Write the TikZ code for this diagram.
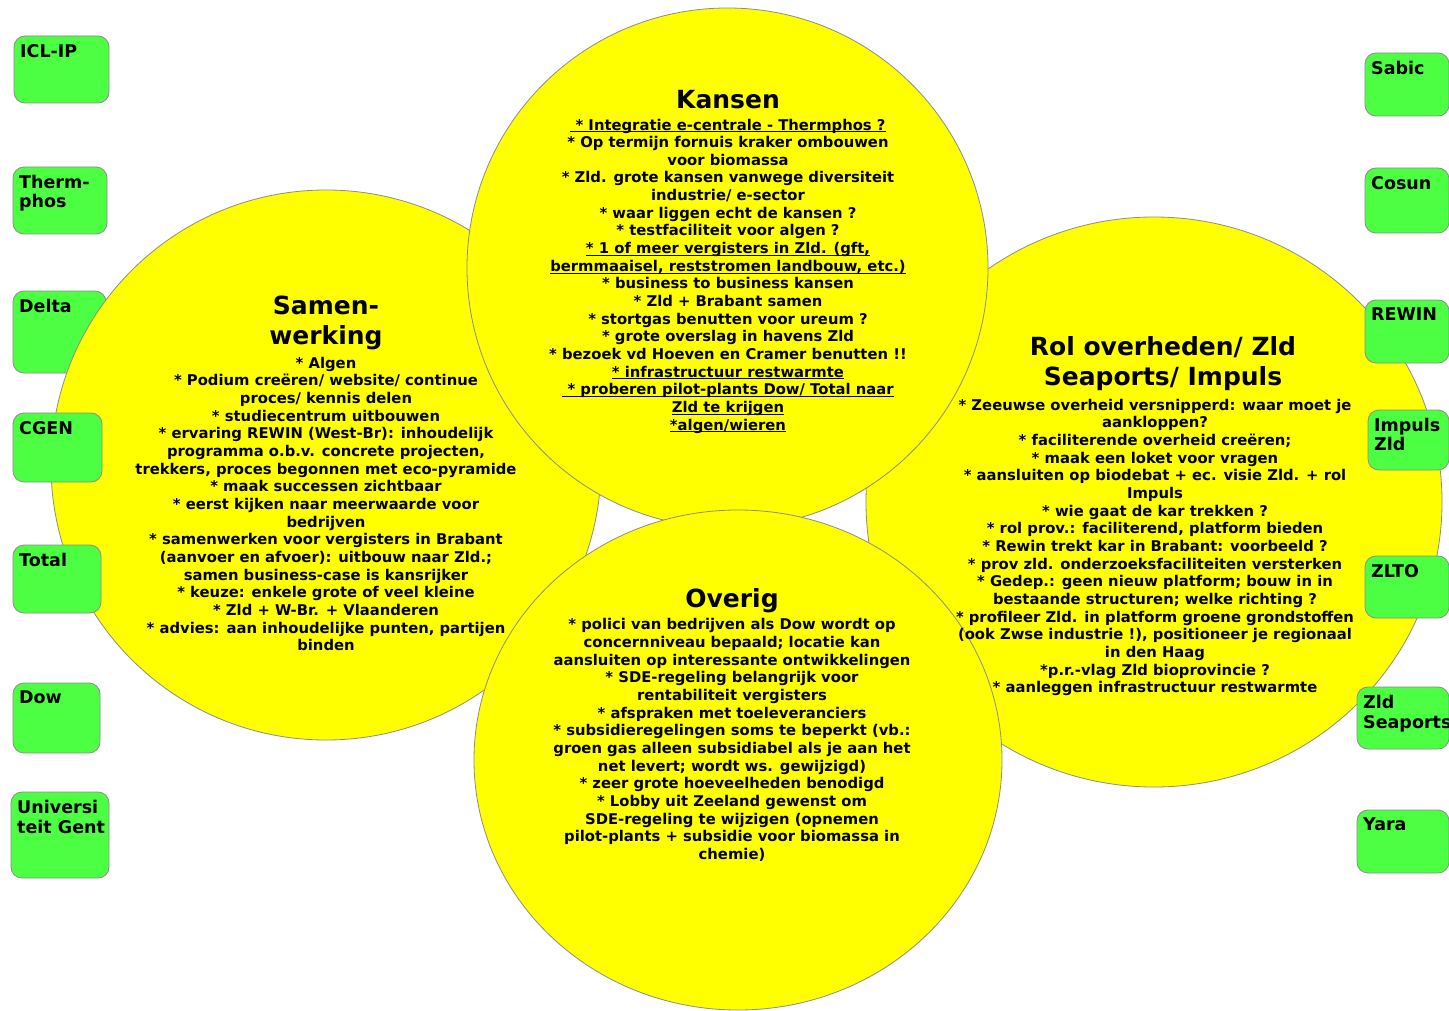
\documentclass[tikz,border=0pt]{standalone}
\usepackage{fontspec}
\setmainfont{DejaVu Sans}
\newcommand{\ul}[1]{{\setbox0\hbox{#1}\rlap{\rule[-2.2pt]{\wd0}{0.9pt}}\box0}}
\definecolor{gboxfill}{RGB}{76,255,66}
\definecolor{circfill}{RGB}{255,255,0}
\definecolor{edgegray}{RGB}{140,140,140}
\tikzset{
  bubble/.style={fill=circfill, draw=edgegray, line width=0.8pt},
  gbox/.style={fill=gboxfill, draw=edgegray, line width=0.8pt, rounded corners=11pt},
  glabel/.style={anchor=north west, inner sep=0pt, align=left, font=\fontsize{17.5}{19.5}\selectfont\bfseries},
  ctitle/.style={inner sep=0pt, align=center, font=\fontsize{25}{30}\selectfont\bfseries},
  cbody/.style={inner sep=0pt, align=center, font=\fontsize{14.8}{17.65}\selectfont\bfseries},
}
\newcommand{\gb}[6]{%
  \path[gbox] (#2,#3) rectangle (#4,#5);
  \coordinate (#1) at (#2,#3);
  \node[glabel] (#1-t) at ([xshift=6pt,yshift=-8pt]#1) {#6};}
\begin{document}
\begin{tikzpicture}[x=1pt,y=-1pt]
\useasboundingbox (0,0) rectangle (1449,1011);
\fill[white] (0,0) rectangle (1449,1011);
% box behind circle
\gb{delta}{13}{291}{106}{373}{Delta}
% circles
\path[bubble] (326,465) ellipse [x radius=275pt, y radius=275pt];
\path[bubble] (1154,502) ellipse [x radius=288pt, y radius=285pt];
\path[bubble] (727.5,268) ellipse [x radius=260.5pt, y radius=260pt];
\path[bubble] (738,760) ellipse [x radius=264pt, y radius=250pt];
% boxes in front
\gb{icl}{14}{36}{109}{103}{ICL-IP}
\gb{therm}{13}{167}{107}{234}{Therm-\\phos}
\gb{cgen}{13}{413}{102}{482}{CGEN}
\gb{total}{13}{545}{101}{613}{Total}
\gb{dow}{13}{683}{100}{753}{Dow}
\gb{ugent}{11}{792}{109}{878}{Universi\\teit Gent}
\gb{sabic}{1365}{53}{1449}{116}{Sabic}
\gb{cosun}{1365}{168}{1449}{233}{Cosun}
\gb{rewin}{1365}{300}{1449}{363}{REWIN}
\gb{impuls}{1368}{410}{1449}{470}{Impuls\\Zld}
\gb{zlto}{1365}{556}{1449}{618}{ZLTO}
\gb{seaports}{1357}{687}{1449}{749}{Zld\\Seaports}
\gb{yara}{1357}{810}{1449}{873}{Yara}
% Kansen
\node[ctitle] (kans-t) at (728,100) {Kansen};
\node[cbody] (kans-b) at (728,276) {%
\ul{ * Integratie e-centrale - Thermphos ?}\\
* Op termijn fornuis kraker ombouwen\\
voor biomassa\\
* Zld. grote kansen vanwege diversiteit\\
industrie/ e-sector\\
* waar liggen echt de kansen ?\\
* testfaciliteit voor algen ?\\
\ul{* 1 of meer vergisters in Zld. (gft,}\\
\ul{bermmaaisel, reststromen landbouw, etc.)}\\
* business to business kansen\\
* Zld + Brabant samen\\
* stortgas benutten voor ureum ?\\
* grote overslag in havens Zld\\
* bezoek vd Hoeven en Cramer benutten !!\\
\ul{* infrastructuur restwarmte}\\
\ul{ * proberen pilot-plants Dow/ Total naar}\\
\ul{Zld te krijgen}\\
\ul{*algen/wieren}};
% Samenwerking
\node[ctitle] (samen-t) at (326,323) {Samen-\\werking};
\node[cbody] (samen-b) at (326,504) {%
* Algen\\
* Podium creëren/ website/ continue\\
proces/ kennis delen\\
* studiecentrum uitbouwen\\
* ervaring REWIN (West-Br): inhoudelijk\\
programma o.b.v. concrete projecten,\\
trekkers, proces begonnen met eco-pyramide\\
* maak successen zichtbaar\\
* eerst kijken naar meerwaarde voor\\
bedrijven\\
* samenwerken voor vergisters in Brabant\\
(aanvoer en afvoer): uitbouw naar Zld.;\\
samen business-case is kansrijker\\
* keuze: enkele grote of veel kleine\\
* Zld + W-Br. + Vlaanderen\\
* advies: aan inhoudelijke punten, partijen\\
binden};
% Rol overheden
\node[ctitle] (rol-t) at (1163,364) {Rol overheden/ Zld\\Seaports/ Impuls};
\node[cbody] (rol-b) at (1155,547.5) {%
* Zeeuwse overheid versnipperd: waar moet je\\
aankloppen?\\
* faciliterende overheid creëren;\\
* maak een loket voor vragen\\
* aansluiten op biodebat + ec. visie Zld. + rol\\
Impuls\\
* wie gaat de kar trekken ?\\
* rol prov.: faciliterend, platform bieden\\
* Rewin trekt kar in Brabant: voorbeeld ?\\
* prov zld. onderzoeksfaciliteiten versterken\\
* Gedep.: geen nieuw platform; bouw in in\\
bestaande structuren; welke richting ?\\
* profileer Zld. in platform groene grondstoffen\\
(ook Zwse industrie !), positioneer je regionaal\\
in den Haag\\
*p.r.-vlag Zld bioprovincie ?\\
* aanleggen infrastructuur restwarmte};
% Overig
\node[ctitle] (over-t) at (732,601) {Overig};
\node[cbody] (over-b) at (732,740) {%
* polici van bedrijven als Dow wordt op\\
concernniveau bepaald; locatie kan\\
aansluiten op interessante ontwikkelingen\\
* SDE-regeling belangrijk voor\\
rentabiliteit vergisters\\
* afspraken met toeleveranciers\\
* subsidieregelingen soms te beperkt (vb.:\\
groen gas alleen subsidiabel als je aan het\\
net levert; wordt ws. gewijzigd)\\
* zeer grote hoeveelheden benodigd\\
* Lobby uit Zeeland gewenst om\\
SDE-regeling te wijzigen (opnemen\\
pilot-plants + subsidie voor biomassa in\\
chemie)};
\end{tikzpicture}
\end{document}
